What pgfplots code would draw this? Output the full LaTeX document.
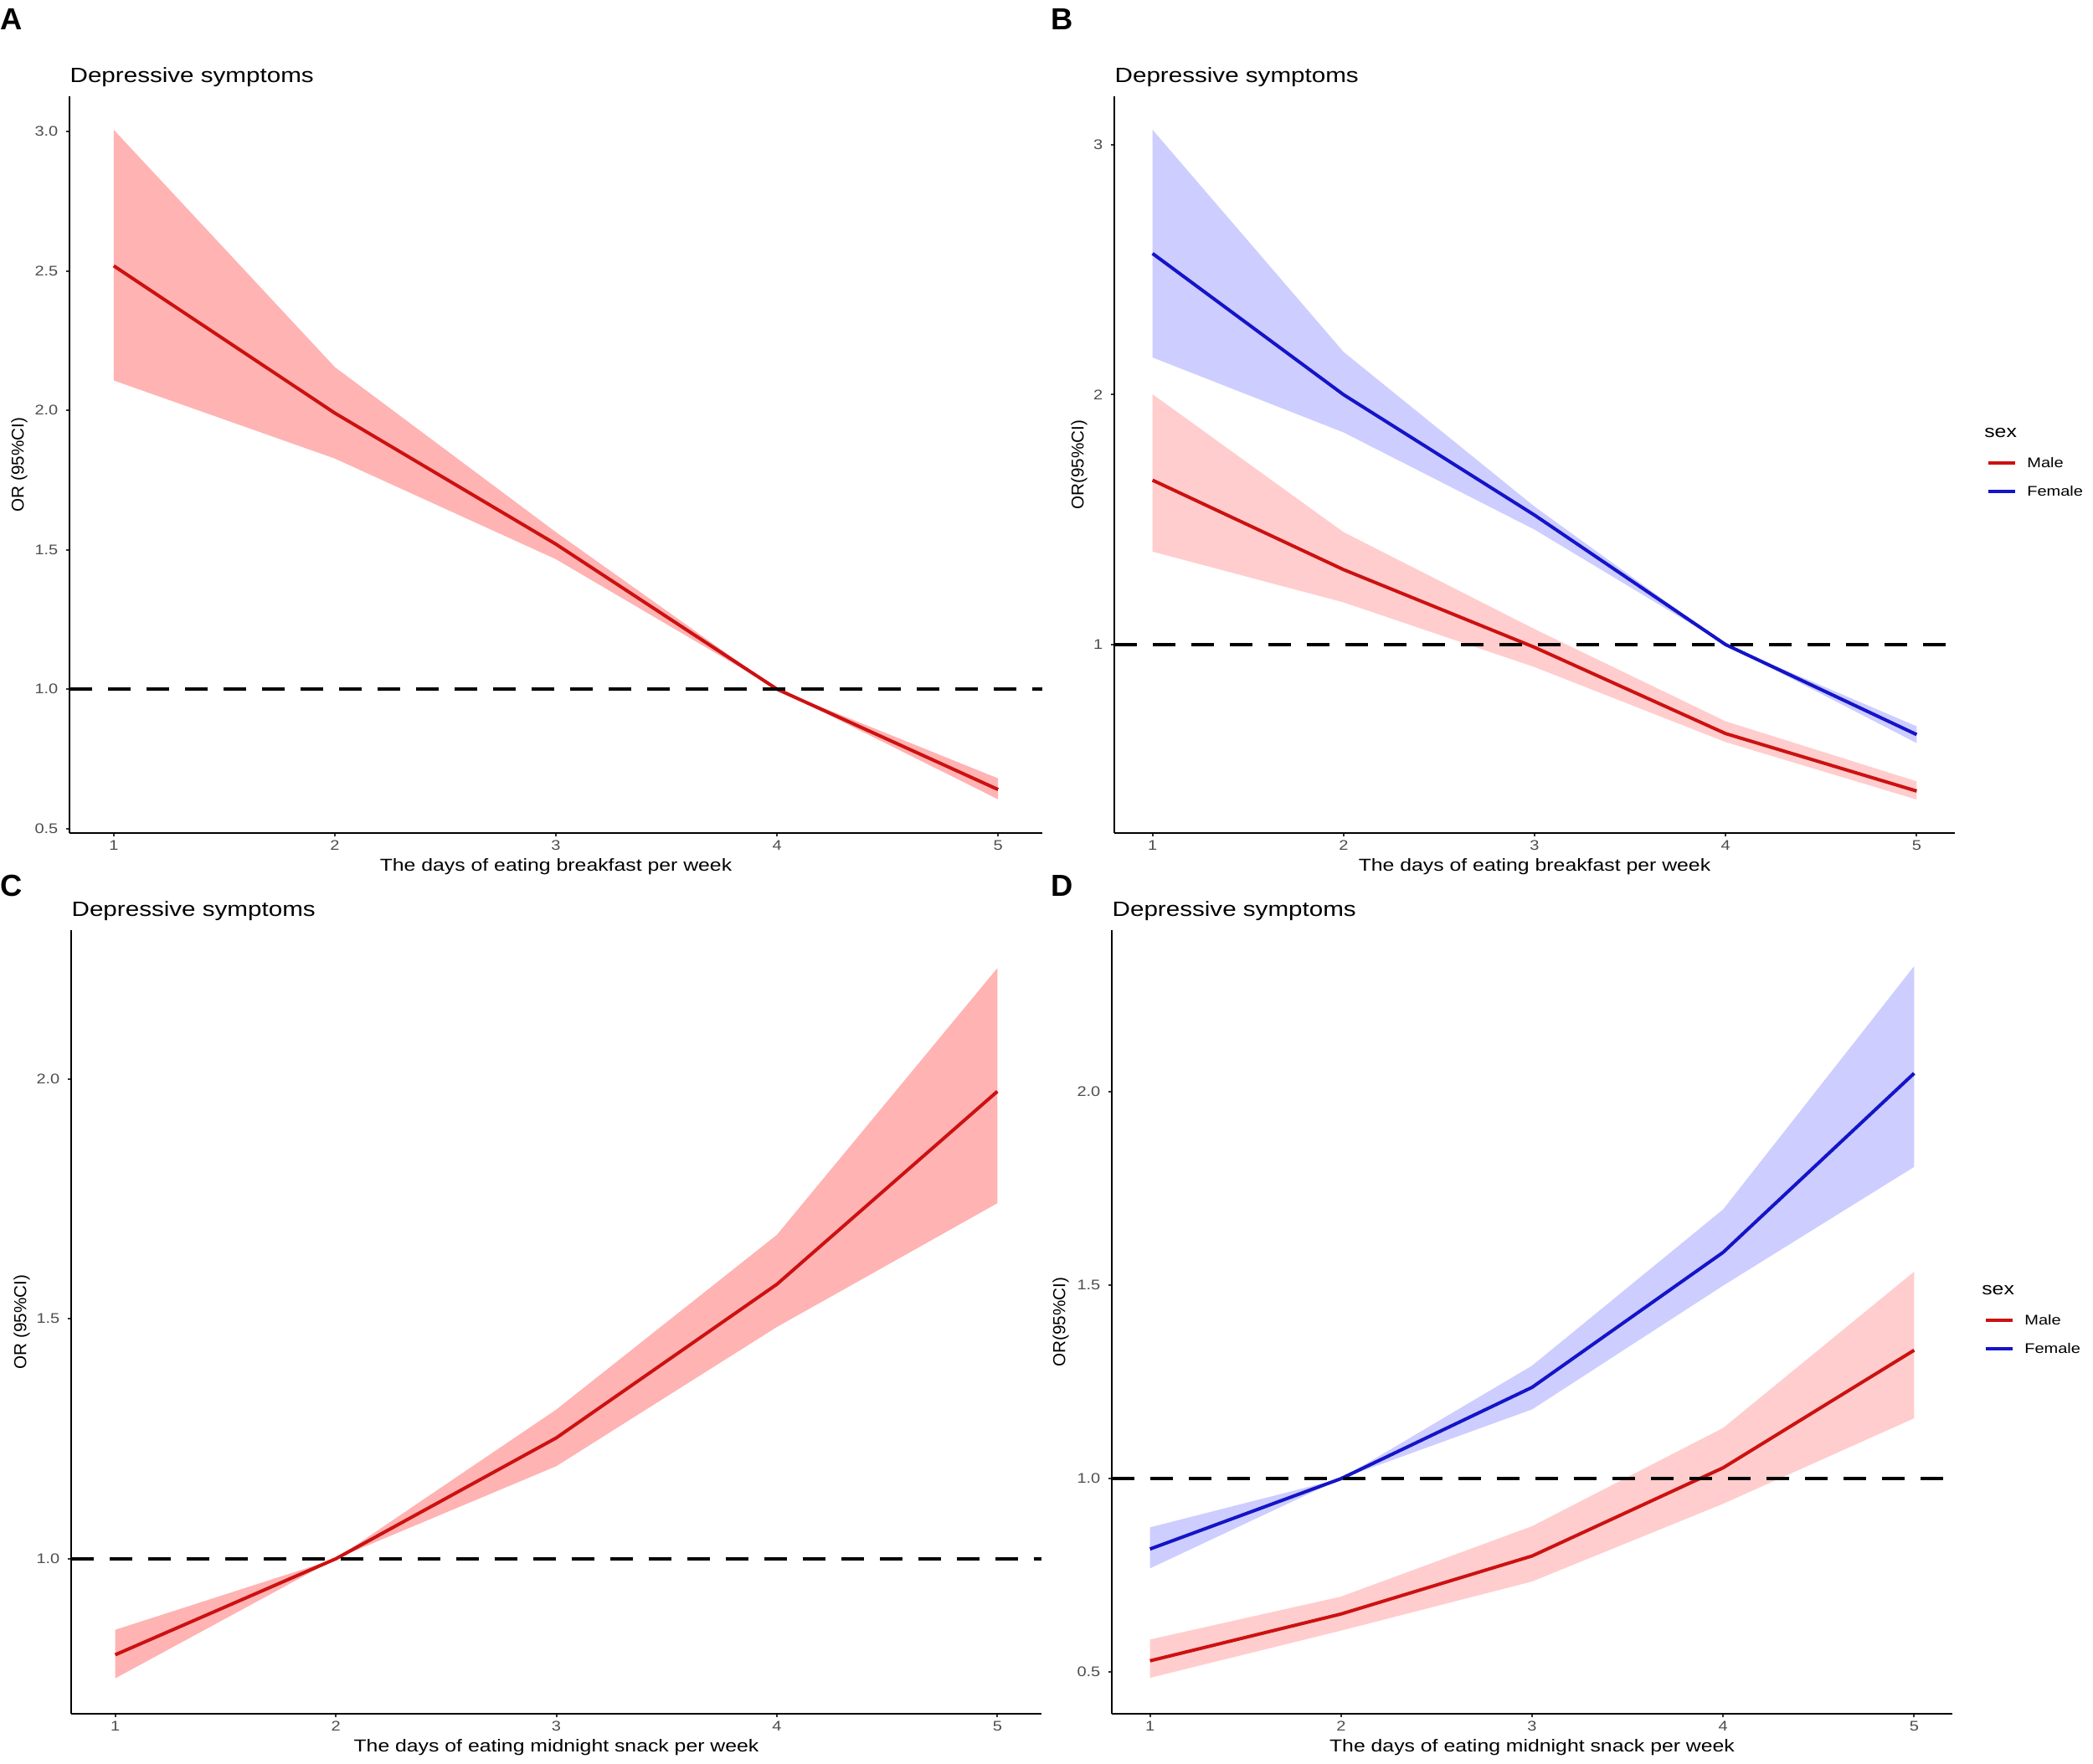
\documentclass[border=0pt]{standalone}
\usepackage{fontspec}
\setmainfont{Liberation Sans}[FakeStretch=1.2]
\newfontfamily\plainsans{Liberation Sans}
\usepackage{pgfplots}
\pgfplotsset{compat=1.18}
\usepackage{pgfplotstable}
\usepgfplotslibrary{fillbetween}

\definecolor{redline}{HTML}{CC1111}
\definecolor{blueline}{HTML}{1414C8}
\definecolor{bandA}{HTML}{FFB3B3}
\definecolor{bandred}{HTML}{FFCDCD}
\definecolor{bandblue}{HTML}{CDCDFF}

% x = days per week, y = OR, lo/hi = 95% CI
\pgfplotstableread{
x y lo hi
1 2.518 2.107 3.006
2 1.990 1.827 2.155
3 1.520 1.466 1.563
4 1.000 1.000 1.000
5 0.640 0.605 0.680
}\tabA
\pgfplotstableread{
x y lo hi
1 1.658 1.372 2.002
2 1.300 1.169 1.450
3 0.989 0.910 1.062
4 0.644 0.610 0.693
5 0.414 0.380 0.453
}\tabBmale
\pgfplotstableread{
x y lo hi
1 2.565 2.149 3.060
2 2.000 1.849 2.171
3 1.518 1.460 1.552
4 1.000 1.000 1.000
5 0.640 0.606 0.673
}\tabBfemale
\pgfplotstableread{
x y lo hi
1 0.800 0.751 0.852
2 1.000 1.000 1.000
3 1.252 1.193 1.311
4 1.572 1.483 1.675
5 1.974 1.741 2.231
}\tabC
\pgfplotstableread{
x y lo hi
1 0.529 0.485 0.584
2 0.650 0.607 0.695
3 0.800 0.734 0.877
4 1.028 0.935 1.131
5 1.332 1.156 1.535
}\tabDmale
\pgfplotstableread{
x y lo hi
1 0.818 0.768 0.874
2 1.000 1.000 1.000
3 1.236 1.179 1.292
4 1.585 1.499 1.696
5 2.048 1.806 2.325
}\tabDfemale

\pgfplotsset{
  panel/.style={
    scale only axis,
    anchor=south west,
    axis lines*=left,
    axis line style={line width=0.7pt, black},
    xmin=0.8, xmax=5.2,
    xtick={1,2,3,4,5},
    xticklabels={1,2,3,4,5},
    tick align=outside,
    major tick length=1.3pt,
    tick style={line width=0.6pt, black!80},
    ticklabel style={font=\fontsize{5}{6}\selectfont, text=black!70, inner sep=0pt},
    xticklabel shift=1.1pt,
    yticklabel shift=2.6pt,
    clip mode=individual,
    title=Depressive symptoms,
    every axis title/.style={at={(axis description cs:0,1)}, anchor=base west,
      yshift=5.1pt, inner sep=0pt, font=\fontsize{7.4}{8.9}\selectfont},
    every axis x label/.style={at={(axis description cs:0.5,0)}, anchor=base,
      yshift=-13.6pt, inner sep=0pt, font=\fontsize{6.2}{7.4}\selectfont},
  },
  ylab/.style={
    every axis y label/.style={at={(axis description cs:0,0.5)}, xshift=-#1,
      rotate=90, anchor=center, inner sep=0pt,
      font=\plainsans\fontsize{6.2}{7.4}\selectfont},
  },
  sexlegend/.style={
    legend style={at={(axis description cs:1,0.5)}, anchor=north west,
      xshift=11pt, yshift=2.7pt, draw=none, fill=none, inner sep=0pt,
      row sep=6.6pt, column sep=3.8pt, font=\fontsize{5}{6}\selectfont,
      cells={anchor=base west},
      nodes={inner sep=0pt, text height=3.6pt, text depth=0pt}},
    legend image code/.code={\draw[##1, line width=1.3pt] (0pt,1.8pt) -- (9.6pt,1.8pt);},
  },
  refline/.style={black, line width=1.4pt, dash pattern=on 8pt off 5.8pt, forget plot},
}

\begin{document}
\begin{tikzpicture}
\path (0,0) rectangle (750pt,-632.1pt);

\node[anchor=base west, inner sep=0pt, font=\plainsans\bfseries\fontsize{10.9}{12}\selectfont] at (0pt,-10.5pt) {A};
\node[anchor=base west, inner sep=0pt, font=\plainsans\bfseries\fontsize{10.9}{12}\selectfont] at (376.5pt,-10.5pt) {B};
\node[anchor=base west, inner sep=0pt, font=\plainsans\bfseries\fontsize{10.9}{12}\selectfont] at (0pt,-321pt) {C};
\node[anchor=base west, inner sep=0pt, font=\plainsans\bfseries\fontsize{10.9}{12}\selectfont] at (376.5pt,-321pt) {D};

% A
\begin{axis}[panel, ylab=18pt, at={(24.9pt,-298.5pt)}, width=348.6pt, height=264pt,
  ymin=0.484, ymax=3.126,
  ytick={0.5,1,1.5,2,2.5,3}, yticklabels={0.5,1.0,1.5,2.0,2.5,3.0},
  xlabel={The days of eating breakfast per week}, ylabel={OR (95\%CI)}]
\addplot[name path=Ahi, draw=none, forget plot] table[x=x, y=hi]{\tabA};
\addplot[name path=Alo, draw=none, forget plot] table[x=x, y=lo]{\tabA};
\addplot[bandA, forget plot] fill between[of=Ahi and Alo];
\addplot[redline, line width=1.2pt] table[x=x, y=y]{\tabA};
\addplot[refline] coordinates {(0.8,1) (5.2,1)};
\end{axis}

% B
\begin{axis}[panel, ylab=12.6pt, sexlegend, at={(399.3pt,-298.5pt)}, width=301.2pt, height=264pt,
  ymin=0.246, ymax=3.194,
  ytick={1,2,3}, yticklabels={1,2,3},
  xlabel={The days of eating breakfast per week}, ylabel={OR(95\%CI)}]
\addplot[name path=Bmhi, draw=none, forget plot] table[x=x, y=hi]{\tabBmale};
\addplot[name path=Bmlo, draw=none, forget plot] table[x=x, y=lo]{\tabBmale};
\addplot[name path=Bfhi, draw=none, forget plot] table[x=x, y=hi]{\tabBfemale};
\addplot[name path=Bflo, draw=none, forget plot] table[x=x, y=lo]{\tabBfemale};
\addplot[bandred, forget plot] fill between[of=Bmhi and Bmlo];
\addplot[bandblue, forget plot] fill between[of=Bfhi and Bflo];
\addplot[redline, line width=1.2pt] table[x=x, y=y]{\tabBmale};
\addlegendentry{Male}
\addplot[blueline, line width=1.2pt] table[x=x, y=y]{\tabBfemale};
\addlegendentry{Female}
\addplot[refline] coordinates {(0.8,1) (5.2,1)};
\node[anchor=base west, inner sep=0pt, xshift=10.4pt, yshift=9.9pt, font=\fontsize{6.2}{7.4}\selectfont] at (axis description cs:1,0.5) {sex};
\end{axis}

% C
\begin{axis}[panel, ylab=17.7pt, at={(25.5pt,-614.1pt)}, width=347.7pt, height=280.8pt,
  ymin=0.677, ymax=2.31,
  ytick={1,1.5,2}, yticklabels={1.0,1.5,2.0},
  xlabel={The days of eating midnight snack per week}, ylabel={OR (95\%CI)}]
\addplot[name path=Chi, draw=none, forget plot] table[x=x, y=hi]{\tabC};
\addplot[name path=Clo, draw=none, forget plot] table[x=x, y=lo]{\tabC};
\addplot[bandA, forget plot] fill between[of=Chi and Clo];
\addplot[redline, line width=1.2pt] table[x=x, y=y]{\tabC};
\addplot[refline] coordinates {(0.8,1) (5.2,1)};
\end{axis}

% D
\begin{axis}[panel, ylab=18.3pt, sexlegend, at={(398.4pt,-614.1pt)}, width=301.2pt, height=280.8pt,
  ymin=0.392, ymax=2.418,
  ytick={0.5,1,1.5,2}, yticklabels={0.5,1.0,1.5,2.0},
  xlabel={The days of eating midnight snack per week}, ylabel={OR(95\%CI)}]
\addplot[name path=Dmhi, draw=none, forget plot] table[x=x, y=hi]{\tabDmale};
\addplot[name path=Dmlo, draw=none, forget plot] table[x=x, y=lo]{\tabDmale};
\addplot[name path=Dfhi, draw=none, forget plot] table[x=x, y=hi]{\tabDfemale};
\addplot[name path=Dflo, draw=none, forget plot] table[x=x, y=lo]{\tabDfemale};
\addplot[bandred, forget plot] fill between[of=Dmhi and Dmlo];
\addplot[bandblue, forget plot] fill between[of=Dfhi and Dflo];
\addplot[redline, line width=1.2pt] table[x=x, y=y]{\tabDmale};
\addlegendentry{Male}
\addplot[blueline, line width=1.2pt] table[x=x, y=y]{\tabDfemale};
\addlegendentry{Female}
\addplot[refline] coordinates {(0.8,1) (5.2,1)};
\node[anchor=base west, inner sep=0pt, xshift=10.4pt, yshift=9.9pt, font=\fontsize{6.2}{7.4}\selectfont] at (axis description cs:1,0.5) {sex};
\end{axis}
\pgfresetboundingbox
\path[use as bounding box] (0,0) rectangle (750pt,-632.1pt);
\end{tikzpicture}
\end{document}
